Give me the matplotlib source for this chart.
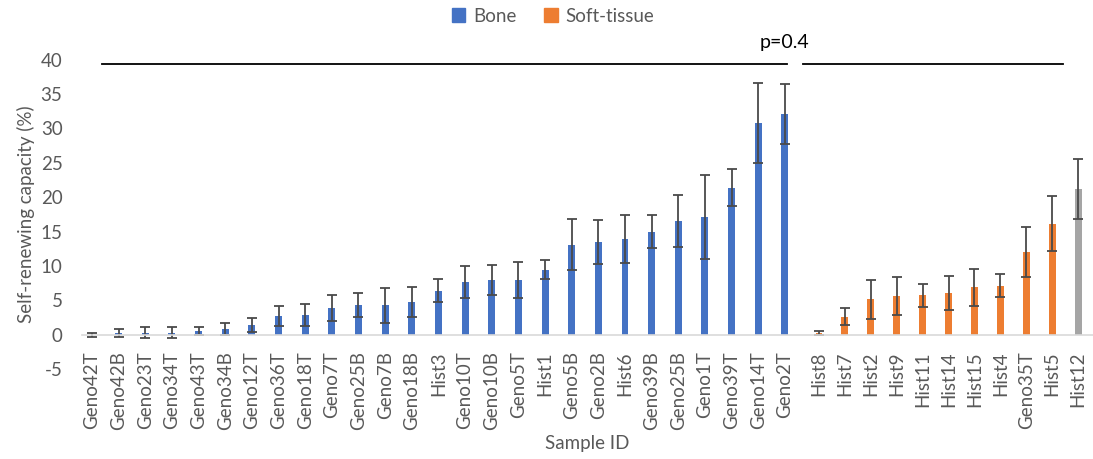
import numpy as np
import matplotlib
matplotlib.use('Agg')
import matplotlib.pyplot as plt
from matplotlib.patches import Patch

plt.rcParams['font.family'] = ['Lato', 'DejaVu Sans']
plt.rcParams['axes.unicode_minus'] = False

# bone samples
bone_ids = ['Geno42T', 'Geno42B', 'Geno23T', 'Geno34T', 'Geno43T', 'Geno34B', 'Geno12T',
            'Geno36T', 'Geno18T', 'Geno7T', 'Geno25B', 'Geno7B', 'Geno18B', 'Hist3',
            'Geno10T', 'Geno10B', 'Geno5T', 'Hist1', 'Geno5B', 'Geno2B', 'Hist6',
            'Geno39B', 'Geno25B', 'Geno1T', 'Geno39T', 'Geno14T', 'Geno2T']
bone_vals = [0.0, 0.25, 0.3, 0.3, 0.5, 0.87, 1.37, 2.7, 2.86, 3.9, 4.3, 4.3, 4.75, 6.4,
             7.7, 7.95, 7.95, 9.45, 13.1, 13.5, 13.9, 15.0, 16.5, 17.1, 21.4, 30.8, 32.1]
bone_err = [0.3, 0.6, 0.75, 0.75, 0.55, 0.85, 1.0, 1.4, 1.6, 1.85, 1.75, 2.55, 2.25, 1.7,
            2.3, 2.2, 2.65, 1.4, 3.7, 3.2, 3.5, 2.4, 3.8, 6.1, 2.7, 5.8, 4.4]

# soft-tissue samples (last one drawn grey)
soft_ids = ['Hist8', 'Hist7', 'Hist2', 'Hist9', 'Hist11', 'Hist14', 'Hist15', 'Hist4',
            'Geno35T', 'Hist5', 'Hist12']
soft_vals = [0.3, 2.6, 5.15, 5.6, 5.7, 6.05, 6.9, 7.15, 12.0, 16.1, 21.2]
soft_err = [0.3, 1.25, 2.8, 2.75, 1.7, 2.45, 2.7, 1.7, 3.6, 4.0, 4.35]

blue = '#4472C4'
orange = '#ED7D31'
grey = '#A5A5A5'
txt = '#595959'
fs = 13.5

x_bone = np.arange(len(bone_ids))
x_soft = 27.28 + 0.972 * np.arange(len(soft_ids))
soft_cols = [orange] * (len(soft_ids) - 1) + [grey]

fig = plt.figure(figsize=(10.93, 4.59), dpi=100)
ax = fig.add_axes([0.075, 0.196, 0.925, 0.674])

ekw = dict(ecolor='#4a4a4a', elinewidth=1.3, capsize=3.6, capthick=1.3)
ax.bar(x_bone, bone_vals, width=0.26, color=blue, yerr=bone_err, error_kw=ekw, zorder=2)
ax.bar(x_soft, soft_vals, width=0.26, color=soft_cols, yerr=soft_err, error_kw=ekw, zorder=2)

for s in ['top', 'right', 'left']:
    ax.spines[s].set_visible(False)
# category axis sits on the zero line, like Excel
ax.spines['bottom'].set_position(('data', 0))
ax.spines['bottom'].set_color('#D9D9D9')
ax.spines['bottom'].set_linewidth(1.2)

ax.set_xlim(-0.375, 37.56)
ax.set_ylim(-5, 40)
ax.set_yticks(range(-5, 41, 5))
ax.set_xticks(np.concatenate([x_bone, x_soft]))
ax.set_xticklabels(bone_ids + soft_ids)
ax.tick_params(axis='x', length=0, labelsize=fs, colors=txt, pad=12, labelrotation=90)
ax.tick_params(axis='y', length=0, labelsize=fs, colors=txt, pad=14)

ax.set_ylabel('Self-renewing capacity (%)', fontsize=fs, color=txt, labelpad=4)
fig.text(587 / 1093, 1 - 444 / 459, 'Sample ID', ha='center', va='center',
         fontsize=fs, color=txt)

# comparison lines and p value
ax.plot([0.375, 26.08], [39.3, 39.3], color='black', lw=1.3, clip_on=False)
ax.plot([26.68, 36.43], [39.3, 39.3], color='black', lw=1.3, clip_on=False)
ax.text(26.0, 42.5, 'p=0.4', ha='center', va='center', fontsize=14, color='black')

handles = [Patch(color=blue, label='Bone'), Patch(color=orange, label='Soft-tissue')]
fig.legend(handles=handles, loc='center', bbox_to_anchor=(0.506, 0.965), ncol=2,
           frameon=False, fontsize=fs, labelcolor=txt, handlelength=0.7,
           handleheight=0.7, handletextpad=0.4, columnspacing=1.5)

plt.savefig('out.png', dpi=100)
